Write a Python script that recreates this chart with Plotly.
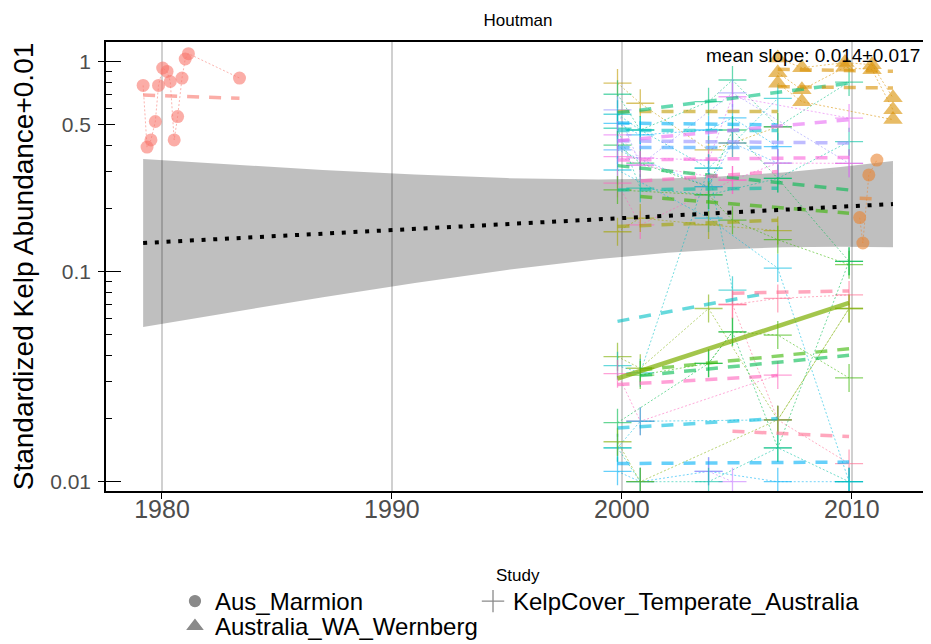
import plotly.graph_objects as go

# ---------------- text ----------------
title_text = "Houtman"
slope_text = "mean slope: 0.014±0.017"
y_title = "Standardized Kelp Abundance+0.01"
legend_title = "Study"
study_names = ["Aus_Marmion", "KelpCover_Temperate_Australia", "Australia_WA_Wernberg"]

# ---------------- axes ----------------
x_tick_vals = [1980, 1990, 2000, 2010]
y_tick_vals = [0.01, 0.1, 0.5, 1]
y_tick_text = ["0.01", "0.1", "0.5", "1"]
y_decade_vals = [0.01, 0.1, 1]
y_half_vals = [0.5]
y_minor_vals = [0.02, 0.03, 0.04, 0.05, 0.06, 0.07, 0.08, 0.09,
                0.2, 0.3, 0.4, 0.6, 0.7, 0.8, 0.9]

# ---------------- Aus_Marmion ----------------
marmion_a_years = [1979.18, 1979.35, 1979.52, 1979.71, 1979.85, 1980.03, 1980.22,
                   1980.36, 1980.53, 1980.68, 1980.87, 1981.01, 1981.15, 1983.37]
marmion_a_vals = [0.771, 0.392, 0.424, 0.519, 0.771, 0.933, 0.899,
                  0.805, 0.424, 0.548, 0.836, 1.03, 1.092, 0.836]
marmion_a_trend_years = [1979.18, 1983.37]
marmion_a_trend_vals = [0.694, 0.669]

marmion_b_years = [2010.34, 2010.48, 2010.74, 2011.09]
marmion_b_vals = [0.181, 0.137, 0.289, 0.340]
marmion_b_trend_years = [2010.34, 2011.09]
marmion_b_trend_vals = [0.224, 0.222]

# ---------------- Australia_WA_Wernberg ----------------
wern_1_years = [2006.78, 2007.83, 2009.70, 2010.88, 2011.79]
wern_1_vals = [1.04, 0.936, 0.99, 0.968, 0.673]
wern_1_trend_years = [2006.78, 2011.79]
wern_1_trend_vals = [0.92, 0.90]

wern_2_years = [2006.78, 2007.83, 2009.70, 2010.88, 2011.79]
wern_2_vals = [0.886, 0.735, 0.94, 0.916, 0.59]
wern_2_trend_years = [2006.78, 2011.79]
wern_2_trend_vals = [0.76, 0.75]

wern_3_years = [2006.78, 2007.83, 2011.79]
wern_3_vals = [0.79, 0.645, 0.53]

# ---------------- KelpCover_Temperate_Australia ----------------
kc_years = [1999.81, 2000.80, 2003.77, 2004.81, 2006.78, 2009.88]

kc_s01 = [0.791, 0.634, 0.38, 0.41, 0.49, None]
kc_s02 = [0.70, 0.473, 0.645, 0.818, 0.49, 0.80]
kc_s03 = [0.589, 0.322, None, 0.71, None, 0.328]
kc_s04 = [0.562, 0.473, 0.311, None, 0.669, None]
kc_s05 = [0.509, 0.448, 0.473, 0.54, 0.394, None]
kc_s06 = [0.482, 0.25, 0.232, None, 0.278, 0.416]
kc_s07 = [0.448, 0.348, 0.34, 0.681, None, 0.539]
kc_s08 = [0.401, 0.329, 0.254, 0.473, 0.278, 0.112]
kc_s09 = [0.38, None, 0.254, 0.41, 0.329, None]
kc_s10 = [0.353, 0.322, None, 0.273, 0.329, 0.328]
kc_s11 = [0.305, None, 0.18, None, 0.104, 0.01]
kc_s12 = [0.264, 0.167, None, 0.273, None, None]
kc_s13 = [0.155, 0.18, 0.167, None, 0.157, None]
kc_s14 = [0.245, None, 0.232, 0.176, 0.142, 0.108]
kc_s15 = [0.0394, 0.0347, 0.0668, None, 0.0197, 0.0668]
kc_s16 = [0.0357, 0.033, 0.311, 0.0817, None, None]
kc_s17 = [None, None, None, 0.0698, 0.0746, 0.0775]
kc_s18 = [0.0327, 0.0194, None, None, 0.0322, None]
kc_s19 = [None, 0.0322, 0.0366, 0.0517, 0.0499, 0.0312]
kc_s20 = [0.0191, None, 0.0366, 0.0517, 0.0145, 0.112]
kc_s21 = [0.0145, 0.0194, None, None, 0.0197, None]
kc_s22 = [None, None, None, 0.0698, 0.0197, 0.0122]
kc_s23 = [0.0112, 0.01, 0.0112, None, 0.01, 0.01]
kc_s24 = [None, None, 0.0112, 0.01, None, None]
kc_s25 = [0.0145, 0.01, 0.01, None, 0.0145, 0.01]
kc_s26 = [0.0155, 0.01, None, None, 0.0197, 0.0668]

# per-site fitted trend (start/end years and values)
kc_s01_trend_years, kc_s01_trend_vals = [1999.81, 2006.78], [0.58, 0.58]
kc_s02_trend_years, kc_s02_trend_vals = [1999.81, 2009.88], [0.57, 0.79]
kc_s03_trend_years, kc_s03_trend_vals = [1999.81, 2009.88], [0.42, 0.41]
kc_s04_trend_years, kc_s04_trend_vals = [1999.81, 2006.78], [0.47, 0.47]
kc_s05_trend_years, kc_s05_trend_vals = [1999.81, 2006.78], [0.51, 0.50]
kc_s06_trend_years, kc_s06_trend_vals = [1999.81, 2006.78], [0.245, 0.25]
kc_s07_trend_years, kc_s07_trend_vals = [1999.81, 2009.88], [0.42, 0.53]
kc_s08_trend_years, kc_s08_trend_vals = [1999.81, 2009.88], [0.32, 0.245]
kc_s09_trend_years, kc_s09_trend_vals = [1999.81, 2006.78], [0.39, 0.39]
kc_s10_trend_years, kc_s10_trend_vals = [1999.81, 2009.88], [0.34, 0.35]
kc_s12_trend_years, kc_s12_trend_vals = [2000.80, 2006.78], [0.27, 0.30]
kc_s13_trend_years, kc_s13_trend_vals = [1999.81, 2006.78], [0.164, 0.176]
kc_s14_trend_years, kc_s14_trend_vals = [2000.80, 2009.88], [0.228, 0.19]
kc_s15_trend_years, kc_s15_trend_vals = [1999.81, 2009.88], [0.031, 0.071]
kc_s16_trend_years, kc_s16_trend_vals = [1999.81, 2006.30], [0.058, 0.079]
kc_s17_trend_years, kc_s17_trend_vals = [2004.81, 2009.88], [0.079, 0.081]
kc_s18_trend_years, kc_s18_trend_vals = [1999.81, 2006.78], [0.029, 0.032]
kc_s19_trend_years, kc_s19_trend_vals = [2000.80, 2009.88], [0.034, 0.043]
kc_s20_trend_years, kc_s20_trend_vals = [2000.80, 2009.88], [0.032, 0.040]
kc_s21_trend_years, kc_s21_trend_vals = [1999.81, 2006.78], [0.018, 0.020]
kc_s22_trend_years, kc_s22_trend_vals = [2004.81, 2009.88], [0.0174, 0.0164]
kc_s23_trend_years, kc_s23_trend_vals = [1999.81, 2009.88], [0.0122, 0.0124]

# ---------------- overall model ----------------
fit_years = [1979.18, 2011.79]
fit_vals = [0.137, 0.210]
ribbon_years = [1979.18, 1983, 1987, 1991, 1995, 1999, 2002, 2004.24, 2007, 2009.5, 2011.79]
ribbon_upper = [0.344, 0.324, 0.305, 0.290, 0.279, 0.275, 0.2775, 0.284, 0.297, 0.315, 0.3365]
ribbon_lower = [0.0546, 0.0641, 0.0756, 0.0884, 0.1019, 0.1148, 0.123, 0.1274, 0.1307, 0.1316, 0.1309]

# ---------------- style ----------------
FONT = "Liberation Sans, Arial, Helvetica, sans-serif"
site_colors = {
    "s01": "#C09B00", "s02": "#00BF7D", "s03": "#9590FF", "s04": "#00BFC4",
    "s05": "#00B0F6", "s06": "#00C1A3", "s07": "#E76BF3", "s08": "#00BB4E",
    "s09": "#35A2FF", "s10": "#FA62DB", "s11": "#00BAE0", "s12": "#FF62BC",
    "s13": "#A3A500", "s14": "#39B600", "s15": "#7CAE00", "s16": "#00BFC4",
    "s17": "#FF6C91", "s18": "#FF62BC", "s19": "#39B600", "s20": "#00BB4E",
    "s21": "#00BAE0", "s22": "#FF6C91", "s23": "#00B0F6", "s24": "#C77CFF",
    "s25": "#00C1A3", "s26": "#7CAE00",
}
marmion_a_color = "#F8766D"
marmion_b_color = "#EA8331"
wern_color = "#D89000"


def rgba(h, a):
    h = h.lstrip("#")
    return "rgba(%d,%d,%d,%.2f)" % (int(h[0:2], 16), int(h[2:4], 16), int(h[4:6], 16), a)


kc_sites = [
    ("s01", kc_s01), ("s02", kc_s02), ("s03", kc_s03), ("s04", kc_s04), ("s05", kc_s05),
    ("s06", kc_s06), ("s07", kc_s07), ("s08", kc_s08), ("s09", kc_s09), ("s10", kc_s10),
    ("s11", kc_s11), ("s12", kc_s12), ("s13", kc_s13), ("s14", kc_s14), ("s15", kc_s15),
    ("s16", kc_s16), ("s17", kc_s17), ("s18", kc_s18), ("s19", kc_s19), ("s20", kc_s20),
    ("s21", kc_s21), ("s22", kc_s22), ("s23", kc_s23), ("s24", kc_s24), ("s25", kc_s25),
    ("s26", kc_s26),
]
kc_trends = [
    ("s01", kc_s01_trend_years, kc_s01_trend_vals), ("s02", kc_s02_trend_years, kc_s02_trend_vals),
    ("s03", kc_s03_trend_years, kc_s03_trend_vals), ("s04", kc_s04_trend_years, kc_s04_trend_vals),
    ("s05", kc_s05_trend_years, kc_s05_trend_vals), ("s06", kc_s06_trend_years, kc_s06_trend_vals),
    ("s07", kc_s07_trend_years, kc_s07_trend_vals), ("s08", kc_s08_trend_years, kc_s08_trend_vals),
    ("s09", kc_s09_trend_years, kc_s09_trend_vals), ("s10", kc_s10_trend_years, kc_s10_trend_vals),
    ("s12", kc_s12_trend_years, kc_s12_trend_vals), ("s13", kc_s13_trend_years, kc_s13_trend_vals),
    ("s14", kc_s14_trend_years, kc_s14_trend_vals), ("s16", kc_s16_trend_years, kc_s16_trend_vals),
    ("s17", kc_s17_trend_years, kc_s17_trend_vals), ("s18", kc_s18_trend_years, kc_s18_trend_vals),
    ("s19", kc_s19_trend_years, kc_s19_trend_vals), ("s20", kc_s20_trend_years, kc_s20_trend_vals),
    ("s21", kc_s21_trend_years, kc_s21_trend_vals), ("s22", kc_s22_trend_years, kc_s22_trend_vals),
    ("s23", kc_s23_trend_years, kc_s23_trend_vals),
]

DOT = "2px,2px"
DASH = "12px,10px"

fig = go.Figure()

# overall confidence ribbon (drawn first, under the site data)
fig.add_trace(go.Scatter(
    x=ribbon_years + ribbon_years[::-1], y=ribbon_upper + ribbon_lower[::-1],
    mode="lines", fill="toself", fillcolor="rgba(0,0,0,0.25)", line=dict(width=0),
    showlegend=False, hoverinfo="skip"))


def add_points(xs, ys, color, symbol, size, alpha=0.6):
    pts = [(x, y) for x, y in zip(xs, ys) if y is not None]
    xs2 = [p[0] for p in pts]
    ys2 = [p[1] for p in pts]
    if symbol == "cross-thin":
        marker = dict(symbol=symbol, size=size, color=rgba(color, alpha),
                      line=dict(color=rgba(color, alpha), width=1.3))
    else:
        marker = dict(symbol=symbol, size=size, color=rgba(color, alpha), line=dict(width=0))
    fig.add_trace(go.Scatter(
        x=xs2, y=ys2, mode="lines+markers", marker=marker,
        line=dict(color=rgba(color, 0.55), width=1, dash=DOT),
        showlegend=False, hoverinfo="skip"))


def add_trend(xs, ys, color, solid=False):
    if solid:
        line = dict(color=rgba(color, 0.7), width=4.5, dash="solid")
    else:
        line = dict(color=rgba(color, 0.6), width=3.5, dash=DASH)
    fig.add_trace(go.Scatter(x=xs, y=ys, mode="lines", line=line,
                             showlegend=False, hoverinfo="skip"))


# points and connecting lines
add_points(marmion_a_years, marmion_a_vals, marmion_a_color, "circle", 13)
add_points(marmion_b_years, marmion_b_vals, marmion_b_color, "circle", 13)
for name, vals in kc_sites:
    add_points(kc_years, vals, site_colors[name], "cross-thin", 20)
add_points(wern_1_years, wern_1_vals, wern_color, "triangle-up", 17)
add_points(wern_2_years, wern_2_vals, wern_color, "triangle-up", 17)
add_points(wern_3_years, wern_3_vals, wern_color, "triangle-up", 17)

# site trends
add_trend(marmion_a_trend_years, marmion_a_trend_vals, marmion_a_color)
add_trend(marmion_b_trend_years, marmion_b_trend_vals, marmion_b_color)
for name, ty, tv in kc_trends:
    add_trend(ty, tv, site_colors[name])
add_trend(kc_s15_trend_years, kc_s15_trend_vals, site_colors["s15"], solid=True)
add_trend(wern_1_trend_years, wern_1_trend_vals, wern_color)
add_trend(wern_2_trend_years, wern_2_trend_vals, wern_color)

# overall mean fit
fig.add_trace(go.Scatter(
    x=fit_years, y=fit_vals, mode="lines",
    line=dict(color="black", width=4, dash="4px,7.7px"),
    showlegend=False, hoverinfo="skip"))

# legend entries (one small legend per entry, laid out like the reference)
legend_symbols = ["circle", "cross-thin", "triangle-up"]
legend_sizes = [11, 19, 13]
legend_ids = ["legend", "legend2", "legend3"]
for nm, sym, sz, lid in zip(study_names, legend_symbols, legend_sizes, legend_ids):
    fig.add_trace(go.Scatter(
        x=[None], y=[None], mode="markers", name=nm, legend=lid,
        marker=dict(symbol=sym, size=sz, color="#8A8A8A", line=dict(color="#8A8A8A", width=1.3))))

# helper traces for the extra tick axes
for ax in ["y2", "y3", "y4"]:
    fig.add_trace(go.Scatter(x=[None], y=[None], yaxis=ax, showlegend=False, hoverinfo="skip"))

y_range = [-2.0443, 0.0938]
extra_axis = dict(overlaying="y", anchor="x", side="left", type="log", range=y_range,
                  tickmode="array", showticklabels=False, showgrid=False, showline=False,
                  zeroline=False, tickcolor="black", tickwidth=1, ticks="inside")
legend_common = dict(orientation="v", xanchor="left", yanchor="top",
                     font=dict(size=24, family=FONT, color="black"),
                     bgcolor="rgba(0,0,0,0)", borderwidth=0, itemclick=False,
                     itemdoubleclick=False)

fig.update_layout(
    template="none",
    width=923, height=636,
    margin=dict(l=98, r=1, t=34, b=153, autoexpand=False),
    paper_bgcolor="white", plot_bgcolor="white",
    font=dict(family=FONT, color="black"),
    showlegend=True,
    legend=dict(legend_common, x=0.0837, y=-0.196),
    legend2=dict(legend_common, x=0.4454, y=-0.196),
    legend3=dict(legend_common, x=0.0837, y=-0.2517),
    title=dict(text=title_text, x=0.5, xref="paper", xanchor="center",
               y=1 - 12 / 636, yref="container", yanchor="middle",
               font=dict(size=17, family=FONT, color="black")),
    xaxis=dict(range=[1977.565, 2013.40], tickmode="array", tickvals=x_tick_vals,
               ticks="outside", ticklen=6, tickwidth=1, tickcolor="black",
               showgrid=True, gridcolor="#D0D0D0", gridwidth=2,
               showline=True, linecolor="black", linewidth=1.5, mirror=True,
               zeroline=False, automargin=False, ticklabelstandoff=-11,
               tickfont=dict(size=25, family=FONT, color="#4D4D4D")),
    yaxis=dict(type="log", range=y_range, tickmode="array", tickvals=y_tick_vals,
               ticktext=y_tick_text, ticks="outside", ticklen=6, tickwidth=1,
               tickcolor="black", showgrid=False, showline=True, linecolor="black",
               linewidth=1.5, mirror=True, zeroline=False, automargin=False,
               ticklabelstandoff=3,
               tickfont=dict(size=21, family=FONT, color="#4D4D4D"),
               title=dict(text=y_title, standoff=12,
                          font=dict(size=28, family=FONT, color="black"))),
    yaxis2=dict(extra_axis, tickvals=y_decade_vals, ticklen=15),
    yaxis3=dict(extra_axis, tickvals=y_half_vals, ticklen=9),
    yaxis4=dict(extra_axis, tickvals=y_minor_vals, ticklen=6),
    annotations=[
        dict(text=slope_text, xref="paper", yref="paper", x=1, y=1, xanchor="right",
             yanchor="top", xshift=-8, yshift=-1, showarrow=False,
             font=dict(size=19, family=FONT, color="black")),
        dict(text=legend_title, xref="paper", yref="paper", x=0.5, y=-0.1893,
             xanchor="center", yanchor="middle", showarrow=False,
             font=dict(size=17, family=FONT, color="black")),
    ],
)

fig.write_html("out.html")
